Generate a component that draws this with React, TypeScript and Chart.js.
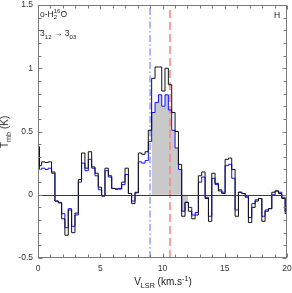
import React, { useEffect, useRef } from 'react';
import { Chart, registerables } from 'chart.js';
Chart.register(...registerables);

// Channel left edges (km/s); last entry is the right edge of the last channel
const velocityEdges = [
  -0.25, 0.12, 0.29, 0.56, 0.82, 1.09, 1.36, 1.63, 1.9, 2.16, 2.43,
  2.7, 2.97, 3.24, 3.5, 3.77, 4.04, 4.31, 4.58, 4.84, 5.11,
  5.38, 5.65, 5.92, 6.18, 6.45, 6.72, 6.99, 7.26, 7.52, 7.79,
  8.06, 8.33, 8.6, 8.86, 9.13, 9.4, 9.67, 9.94, 10.2, 10.47,
  10.74, 11.01, 11.28, 11.54, 11.81, 12.08, 12.35, 12.62, 12.88, 13.15,
  13.42, 13.69, 13.96, 14.22, 14.49, 14.76, 15.03, 15.3, 15.56, 15.83,
  16.1, 16.37, 16.64, 16.9, 17.17, 17.44, 17.71, 17.98, 18.24, 18.51,
  18.78, 19.05, 19.32, 19.58, 19.85, 20.12,
];

// Black spectrum (Tmb, K)
const spectrumBlack = [
  0.38,
  0.23, 0.26, 0.255, 0.26, 0.18,
  -0.05, -0.065, -0.19, -0.32, -0.12,
  -0.3, -0.145, 0.12, 0.33, 0.21,
  0.34, 0.22, 0.17, 0.06, -0.01,
  0.21, 0.15, 0.05, 0.045, 0.045,
  0.1, 0.21, 0.01, -0.07, 0.015,
  0.33, 0.32, 0.34, 0.51, 0.92,
  1.01, 1.01, 0.82, 1.0, 0.87,
  0.65, 0.5, 0.24, -0.17, -0.06,
  -0.13, -0.19, -0.16, 0.15, 0.18,
  -0.03, -0.21, 0.17, 0.09, 0.03,
  0.01, 0.28, 0.29, 0.2, -0.17,
  0.02, 0.01, -0.02, -0.22, -0.1,
  -0.05, -0.03, -0.21, -0.13, -0.11,
  0.02, 0.03, 0.01, -0.03, -0.15,
];

// Blue spectrum (Tmb, K)
const spectrumBlue = [
  0.32,
  0.2, 0.21, 0.2, 0.21, 0.17,
  -0.05, -0.06, -0.15, -0.26, -0.11,
  -0.25, -0.16, 0.1, 0.25, 0.19,
  0.28, 0.21, 0.15, 0.04, -0.01,
  0.19, 0.14, 0.05, 0.045, 0.05,
  0.08, 0.16, 0.01, -0.05, 0.02,
  0.26, 0.25, 0.27, 0.42, 0.65,
  0.73, 0.79, 0.7, 0.79, 0.67,
  0.51, 0.37, 0.2, -0.13, -0.06,
  -0.1, -0.16, -0.14, 0.1, 0.14,
  -0.02, -0.17, 0.13, 0.08, 0.04,
  0.02, 0.23, 0.24, 0.13, -0.12,
  0.02, 0.01, -0.01, -0.18, -0.07,
  -0.04, -0.03, -0.17, -0.12, -0.11,
  0.0, 0.03, 0.02, -0.02, -0.13,
];

const shadedRange = [9.13, 12.08];
const markerBlue = 9.0;
const markerRed = 10.6;
const xTickValues = [0, 5, 10, 15, 20];
const yTickValues = [-0.5, 0, 0.5, 1, 1.5];
const xRange = [0, 20];
const yRange = [-0.5, 1.5];

const FONT = "'Liberation Sans', Arial, Helvetica, sans-serif";

const frameTicks = {
  id: 'frameTicks',
  afterDatasetsDraw(chart: any) {
    const { ctx, chartArea, scales } = chart;
    const { left, right, top, bottom } = chartArea;
    const x = scales.x;
    const y = scales.y;
    ctx.save();
    // zero line
    const y0 = Math.round(y.getPixelForValue(0)) + 0.5;
    ctx.strokeStyle = '#3a3a3a';
    ctx.lineWidth = 1;
    ctx.beginPath();
    ctx.moveTo(left, y0);
    ctx.lineTo(right, y0);
    ctx.stroke();
    // frame
    ctx.strokeStyle = '#7a7a7a';
    const L = Math.round(left) + 0.5, R = Math.round(right) - 0.5;
    const T = Math.round(top) + 0.5, B = Math.round(bottom) - 0.5;
    ctx.strokeRect(L, T, R - L, B - T);
    // ticks (inward)
    ctx.beginPath();
    for (let i = 0; i <= 20; i++) {
      const v = xRange[0] + i * ((xRange[1] - xRange[0]) / 20);
      const px = Math.round(x.getPixelForValue(v)) + 0.5;
      const len = xTickValues.includes(v) ? 4 : 3;
      ctx.moveTo(px, B);
      ctx.lineTo(px, B - len);
      ctx.moveTo(px, T);
      ctx.lineTo(px, T + len);
    }
    for (let i = 0; i <= 20; i++) {
      const v = +(yRange[0] + i * 0.1).toFixed(2);
      const py = Math.round(y.getPixelForValue(v)) + 0.5;
      const len = yTickValues.includes(v) ? 4 : 3;
      ctx.moveTo(L, py);
      ctx.lineTo(L + len, py);
      ctx.moveTo(R, py);
      ctx.lineTo(R - len, py);
    }
    ctx.stroke();
    ctx.restore();
  },
};

export default function App() {
  const ref = useRef<HTMLCanvasElement>(null);

  useEffect(() => {
    if (!ref.current) return;
    const toSteps = (vals: number[]) =>
      velocityEdges.map((x, i) => ({ x, y: vals[Math.min(i, vals.length - 1)] }));
    const blueSteps = toSteps(spectrumBlue);
    const shaded = blueSteps
      .filter((p) => p.x >= shadedRange[0] - 1e-6 && p.x <= shadedRange[1] + 1e-6)
      .map((p, i, arr) => (i === arr.length - 1 ? { x: p.x, y: arr[i - 1].y } : p));

    const chart = new Chart(ref.current, {
      type: 'line',
      data: {
        datasets: [
          {
            data: shaded,
            stepped: true,
            borderWidth: 0,
            borderColor: 'rgba(0,0,0,0)',
            pointRadius: 0,
            fill: 'origin',
            backgroundColor: '#c9c9c9',
            order: 5,
            clip: 0,
          } as any,
          {
            data: [{ x: markerBlue, y: yRange[0] }, { x: markerBlue, y: yRange[1] }],
            borderColor: '#8c8cff',
            borderWidth: 1.3,
            borderDash: [7, 2.5, 1.5, 2.5],
            pointRadius: 0,
            fill: false,
            order: 4,
            clip: 0,
          },
          {
            data: [{ x: markerRed, y: yRange[0] }, { x: markerRed, y: yRange[1] }],
            borderColor: '#ff8080',
            borderWidth: 1.5,
            borderDash: [8, 4],
            pointRadius: 0,
            fill: false,
            order: 3,
            clip: 0,
          },
          {
            data: blueSteps,
            stepped: true,
            borderColor: '#1010ff',
            borderWidth: 1,
            pointRadius: 0,
            fill: false,
            order: 2,
            clip: 0,
          },
          {
            data: toSteps(spectrumBlack),
            stepped: true,
            borderColor: '#111111',
            borderWidth: 1,
            pointRadius: 0,
            fill: false,
            order: 1,
            clip: 0,
          },
        ],
      },
      options: {
        animation: false,
        responsive: false,
        devicePixelRatio: 1,
        events: [],
        layout: { padding: { top: 5, right: 5, left: 0, bottom: 0 } },
        plugins: { legend: { display: false }, tooltip: { enabled: false } },
        scales: {
          x: {
            type: 'linear',
            min: xRange[0],
            max: xRange[1],
            afterBuildTicks: (s: any) => {
              s.ticks = xTickValues.map((v) => ({ value: v }));
            },
            ticks: {
              font: { family: FONT, size: 8.5 },
              color: '#333',
              padding: 6,
              maxRotation: 0,
              autoSkip: false,
              callback: (v: any) => String(v),
            },
            grid: { display: false, drawTicks: false },
            border: { display: false },
            afterFit: (s: any) => {
              s.height = 35;
              s.paddingLeft = 0;
              s.paddingRight = 0;
            },
          },
          y: {
            type: 'linear',
            min: yRange[0],
            max: yRange[1],
            afterBuildTicks: (s: any) => {
              s.ticks = yTickValues.map((v) => ({ value: v }));
            },
            ticks: {
              font: { family: FONT, size: 8.5 },
              color: '#333',
              padding: 5,
              autoSkip: false,
              callback: (v: any) => String(v),
            },
            grid: { display: false, drawTicks: false },
            border: { display: false },
            afterFit: (s: any) => {
              s.width = 38;
              s.paddingTop = 0;
              s.paddingBottom = 0;
            },
          },
        },
      },
      plugins: [frameTicks],
    });
    return () => chart.destroy();
  }, []);

  const txt: React.CSSProperties = {
    position: 'absolute',
    fontFamily: FONT,
    color: '#222',
    whiteSpace: 'nowrap',
    lineHeight: 1,
  };
  const small: React.CSSProperties = { fontSize: '0.72em' };

  return (
    <div
      style={{
        position: 'fixed',
        left: 0,
        top: 0,
        width: 292,
        height: 293,
        background: '#fff',
        overflow: 'hidden',
      }}
    >
      <canvas ref={ref} width={292} height={293} style={{ display: 'block' }} />
      <div style={{ ...txt, left: 40, top: 10, fontSize: 8.5 }}>
        o-H
        <span
          style={{
            display: 'inline-flex',
            flexDirection: 'column',
            fontSize: 6,
            lineHeight: 1,
            verticalAlign: 'middle',
            marginTop: -2,
          }}
        >
          <span>16</span>
          <span>2</span>
        </span>
        O
      </div>
      <div style={{ ...txt, left: 40, top: 29, fontSize: 8.5 }}>
        3<sub style={small}>12</sub> → 3<sub style={small}>03</sub>
      </div>
      <div style={{ ...txt, left: 274, top: 11, fontSize: 8.5 }}>H</div>
      <div
        style={{
          ...txt,
          left: 6,
          top: 132,
          fontSize: 10,
          transform: 'translate(-50%, -50%) rotate(-90deg)',
        }}
      >
        T<sub style={small}>mb</sub> (K)
      </div>
      <div
        style={{
          ...txt,
          left: 163,
          top: 282,
          fontSize: 10,
          transform: 'translate(-50%, -50%)',
        }}
      >
        V<sub style={small}>LSR</sub> (km.s<sup style={small}>-1</sup>)
      </div>
    </div>
  );
}
